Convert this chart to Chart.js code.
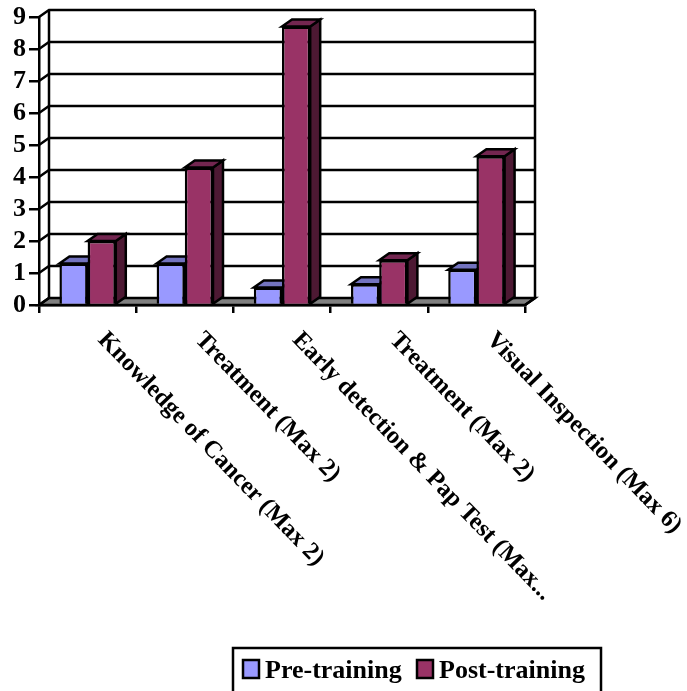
<!DOCTYPE html>
<html>
<head>
<meta charset="utf-8">
<title>Pre and post training scores</title>
<script src="https://cdn.jsdelivr.net/npm/chart.js@4"></script>
<style>
  html, body { margin: 0; padding: 0; background: #fff; overflow: hidden; }
  canvas { display: block; }
</style>
</head>
<body>
<canvas id="scoreChart" width="687" height="691"></canvas>
<script>
const categories = [
  'Knowledge of Cancer (Max 2)',
  'Treatment (Max 2)',
  'Early detection & Pap Test (Max...',
  'Treatment (Max 2)',
  'Visual Inspection (Max 6)'
];
const preTraining = [1.3, 1.3, 0.55, 0.65, 1.1];
const postTraining = [2, 4.3, 8.7, 1.4, 4.65];
const yTicks = [0, 1, 2, 3, 4, 5, 6, 7, 8, 9];

const FONT = 'bold 26px "Liberation Serif"';
const LABEL_FONT = 'bold 24.5px "Liberation Serif"';
const DEPTH_X = 10, DEPTH_Y = -7; // offset of the back wall
const LINE = 2.5;

function polygon(ctx, points, fill) {
  ctx.beginPath();
  points.forEach(function(p, i) {
    if (i === 0) ctx.moveTo(p[0], p[1]); else ctx.lineTo(p[0], p[1]);
  });
  ctx.closePath();
  if (fill) { ctx.fillStyle = fill; ctx.fill(); }
  ctx.stroke();
}

// walls, floor and bar depth, drawn before the front of the bars
const box3d = {
  id: 'box3d',
  beforeDatasetsDraw(chart) {
    const ctx = chart.ctx, area = chart.chartArea, y = chart.scales.y;
    ctx.save();
    ctx.strokeStyle = '#000';
    ctx.lineWidth = LINE;
    ctx.lineJoin = 'miter';

    polygon(ctx, [
      [area.left, area.bottom],
      [area.left + DEPTH_X, area.bottom + DEPTH_Y],
      [area.right + DEPTH_X, area.bottom + DEPTH_Y],
      [area.right, area.bottom]
    ], '#808080');

    yTicks.forEach(function(t) {
      const py = y.getPixelForValue(t);
      ctx.beginPath();
      ctx.moveTo(area.left, py);
      ctx.lineTo(area.left + DEPTH_X, py + DEPTH_Y);
      if (t > 0) ctx.lineTo(area.right + DEPTH_X, py + DEPTH_Y);
      ctx.stroke();
    });

    ctx.beginPath();
    ctx.moveTo(area.left + DEPTH_X, area.top + DEPTH_Y);
    ctx.lineTo(area.left + DEPTH_X, area.bottom + DEPTH_Y);
    ctx.moveTo(area.right + DEPTH_X, area.top + DEPTH_Y);
    ctx.lineTo(area.right + DEPTH_X, area.bottom + DEPTH_Y);
    ctx.lineTo(area.right, area.bottom);
    ctx.stroke();

    const shades = [
      { top: '#7373bf', side: '#4d4d80' },
      { top: '#732650', side: '#4d1933' }
    ];
    chart.data.datasets.forEach(function(ds, d) {
      chart.getDatasetMeta(d).data.forEach(function(bar) {
        const l = bar.x - bar.width / 2, r = bar.x + bar.width / 2;
        polygon(ctx, [
          [r, bar.y], [r + DEPTH_X, bar.y + DEPTH_Y],
          [r + DEPTH_X, bar.base + DEPTH_Y], [r, bar.base]
        ], shades[d].side);
        polygon(ctx, [
          [l, bar.y], [l + DEPTH_X, bar.y + DEPTH_Y],
          [r + DEPTH_X, bar.y + DEPTH_Y], [r, bar.y]
        ], shades[d].top);
      });
    });
    ctx.restore();
  },
  // slanted category labels and the legend box
  afterDraw(chart) {
    const ctx = chart.ctx, x = chart.scales.x;
    ctx.save();
    ctx.font = LABEL_FONT;
    ctx.fillStyle = '#000';
    ctx.textAlign = 'left';
    ctx.textBaseline = 'middle';
    categories.forEach(function(label, i) {
      ctx.save();
      ctx.translate(x.getPixelForTick(i) + 14, 336);
      ctx.rotate(46 * Math.PI / 180);
      ctx.fillText(label, 0, 0);
      ctx.restore();
    });

    ctx.font = FONT;
    ctx.strokeStyle = '#000';
    ctx.lineWidth = LINE;
    ctx.strokeRect(233, 648, 368, 60);
    ctx.textBaseline = 'alphabetic';
    const legendX = [243, 417];
    chart.data.datasets.forEach(function(ds, d) {
      ctx.fillStyle = ds.backgroundColor;
      ctx.fillRect(legendX[d], 660, 16, 18);
      ctx.strokeRect(legendX[d], 660, 16, 18);
      ctx.fillStyle = '#000';
      ctx.fillText(ds.label, legendX[d] + 22, 678);
    });
    ctx.restore();
  }
};

new Chart(document.getElementById('scoreChart'), {
  type: 'bar',
  data: {
    labels: categories,
    datasets: [
      { label: 'Pre-training', data: preTraining, backgroundColor: '#9999ff', borderColor: '#000', borderWidth: LINE },
      { label: 'Post-training', data: postTraining, backgroundColor: '#993366', borderColor: '#000', borderWidth: LINE }
    ]
  },
  options: {
    responsive: false,
    animation: false,
    layout: { padding: { left: 0, right: 162, top: 17, bottom: 0 } },
    datasets: { bar: { categoryPercentage: 0.58, barPercentage: 1 } },
    plugins: { legend: { display: false }, tooltip: { enabled: false } },
    scales: {
      x: {
        afterFit(scale) { scale.height = 386; },
        grid: { drawOnChartArea: false, color: '#000', lineWidth: LINE, tickLength: 8, offset: true },
        border: { color: '#000', width: LINE },
        ticks: { display: false }
      },
      y: {
        min: 0,
        max: 9,
        afterFit(scale) { scale.width = 39; scale.paddingTop = 0; scale.paddingBottom = 0; },
        grid: { drawOnChartArea: false, color: '#000', lineWidth: LINE, tickLength: 10 },
        border: { color: '#000', width: LINE },
        ticks: {
          stepSize: 1,
          autoSkip: false,
          color: '#000',
          padding: 3,
          font: { family: '"Liberation Serif"', size: 26, weight: 'bold' }
        }
      }
    }
  },
  plugins: [box3d]
});
</script>
</body>
</html>
